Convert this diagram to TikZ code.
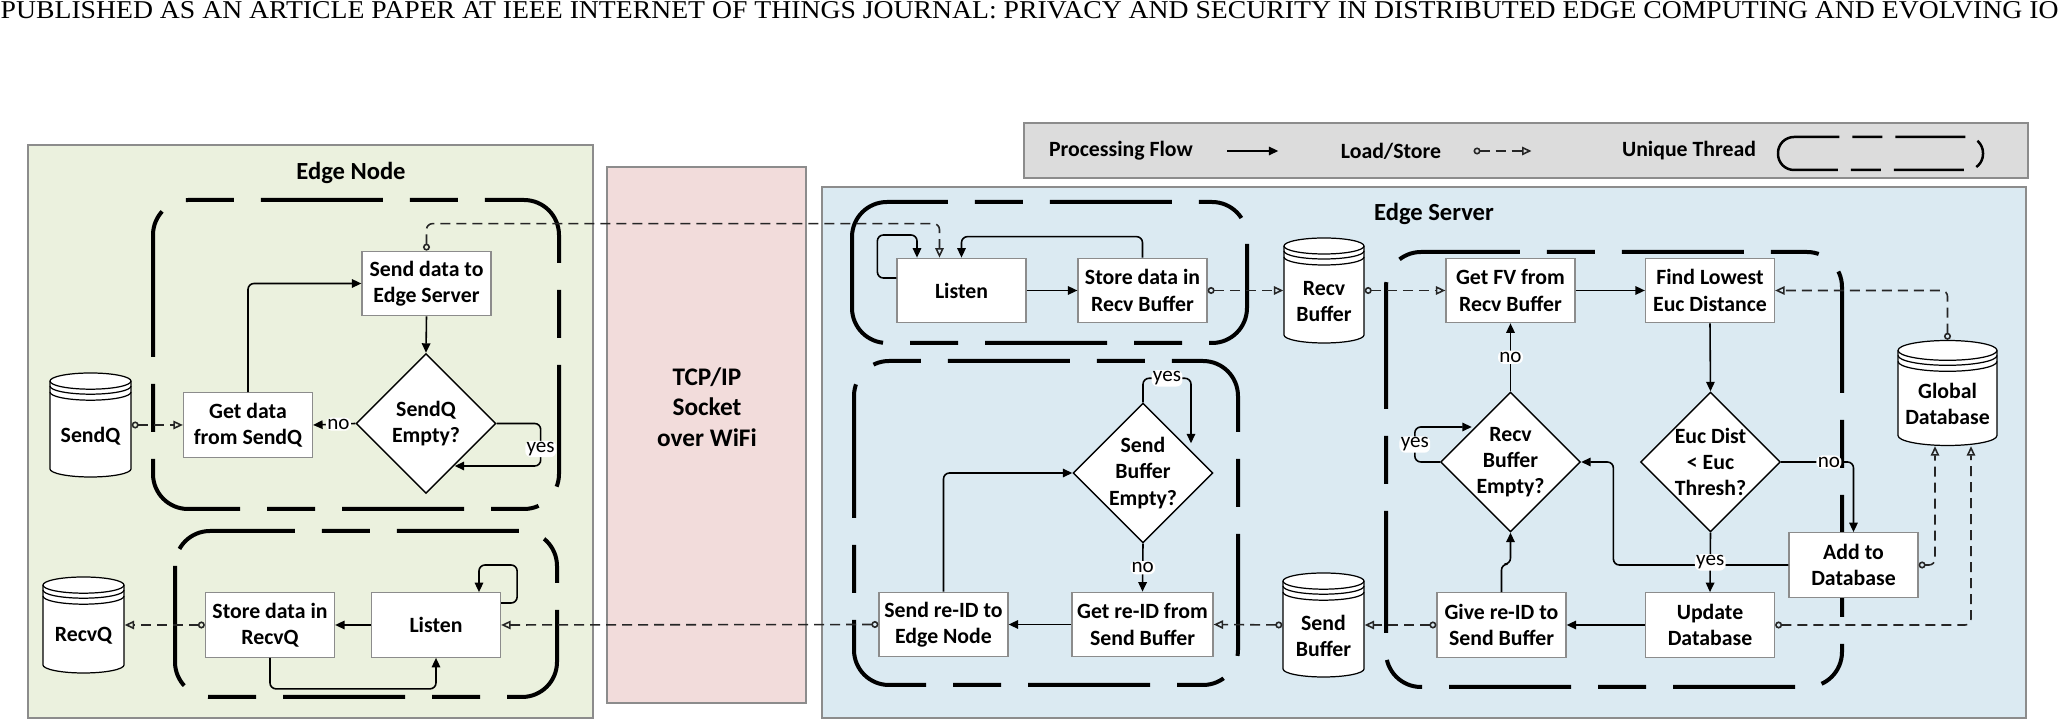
\documentclass[tikz,border=0pt]{standalone}
\usepackage{graphicx}
\usepackage{fontspec}
\setmainfont{Carlito}
\newfontfamily\headserif{Liberation Serif}
\usetikzlibrary{arrows.meta,calc,positioning,shapes.geometric}

\definecolor{nodebg}{HTML}{EBF1DE}
\definecolor{netbg}{HTML}{F2DCDB}
\definecolor{serverbg}{HTML}{DBEAF2}
\definecolor{legendbg}{HTML}{DCDCDC}
\definecolor{framegray}{HTML}{8C8C8C}

\newcommand{\procfont}{\fontsize{6.2}{7.45}\selectfont\bfseries}
\newcommand{\ynfont}{\fontsize{6}{7}\selectfont}

\newcommand{\dbstore}[6]{%
  \begin{scope}[shift={(#2,#3)}]
    \filldraw[fill=white, line width=0.35pt] (-#4/2,#5/2-#4/10) -- (-#4/2,-#5/2+#4/10)
      arc[start angle=180, end angle=360, x radius=#4/2, y radius=#4/10]
      -- (#4/2,#5/2-#4/10) arc[start angle=0, end angle=180, x radius=#4/2, y radius=#4/10] -- cycle;
    \foreach \dy in {0,5,11}
      \draw[line width=0.35pt] (-#4/2,#5/2-#4/10-\dy) arc[start angle=180, end angle=360, x radius=#4/2, y radius=#4/10];
  \end{scope}
  \node[minimum width=#4*0.1mm, minimum height=#5*0.1mm, inner sep=0pt] (#1) at (#2,#3) {};
  \node[font=\procfont, align=center, inner sep=0pt] (#1txt) at ([yshift=-1.1mm]#1.center) {#6};
}

\begin{document}
\begin{tikzpicture}[x=0.1mm, y=0.1mm,
    panel/.style={draw=framegray, line width=0.5pt},
    thread/.style={line width=0.4mm, dash pattern=on 12.2mm off 2.7mm on 4.8mm off 2.7mm, rounded corners=3.5mm},
    legthread/.style={line width=0.25mm, dash pattern=on 7mm off 1.3mm on 3mm off 1.3mm, rounded corners=1.6mm},
    proc/.style={draw=framegray, fill=white, line width=0.35pt, minimum width=12.9mm, minimum height=6.45mm, inner sep=0pt, align=center, font=\procfont},
    decide/.style={diamond, draw, fill=white, line width=0.4pt, minimum width=14mm, minimum height=14mm, inner sep=-0.15mm, align=center, font=\procfont},
    flow/.style={line width=0.45pt, rounded corners=0.6mm, -{Triangle[length=0.95mm, width=0.85mm]}},
    loadstore/.style={line width=0.45pt, black!85, rounded corners=0.6mm, dash pattern=on 1mm off 0.6mm, {Circle[open, length=0.7mm]}-{Triangle[open, length=0.95mm, width=0.85mm]}},
    yn/.style={fill=white, inner sep=0.4pt, font=\ynfont},
    title/.style={font=\fontsize{7}{8.4}\selectfont\bfseries}]
  \useasboundingbox (0,0) rectangle (2058,-719);
  \node[anchor=south west, inner sep=0pt] (head) at (0,-20) {\resizebox{205.8mm}{1.7mm}{\headserif PUBLISHED AS AN ARTICLE PAPER AT IEEE INTERNET OF THINGS JOURNAL: PRIVACY AND SECURITY IN DISTRIBUTED EDGE COMPUTING AND EVOLVING IO}};

  \filldraw[panel, fill=nodebg] (28,-145) rectangle (593,-718);
  \filldraw[panel, fill=netbg] (607,-167) rectangle (806,-703);
  \filldraw[panel, fill=serverbg] (822,-187) rectangle (2026,-718);
  \filldraw[panel, fill=legendbg] (1024,-123) rectangle (2028,-178);

  \node[title] (ntitle) at (351,-173) {Edge Node};
  \node[title] (stitle) at (1434,-214) {Edge Server};
  \node[font=\fontsize{7.2}{8.6}\selectfont\bfseries, align=center] (tcp) at (707,-407) {TCP/IP\\Socket\\over WiFi};

  \node[font=\procfont] (lgflow) at (1121,-151) {Processing Flow};
  \draw[flow] ([xshift=2.2mm]lgflow.east) -- ++(51,0);
  \node[font=\procfont] (lgls) at (1391,-151) {Load/Store};
  \draw[loadstore] ([xshift=2mm]lgls.east) -- ++(58,0);
  \node[font=\procfont] (lgthr) at (1689,-151) {Unique Thread};
  \draw[legthread] (1778,-137) rectangle (1983,-170);

  \draw[thread] (153,-200) rectangle (559,-509);
  \draw[thread] (175,-531) rectangle (557,-697);
  \draw[thread] (852,-202) rectangle (1247,-343);
  \draw[thread] (854,-361) rectangle (1238,-685);
  \draw[thread] (1386,-252) rectangle (1842,-687);

  \node[proc] (sendsrv) at (426.5,-283.5) {Send data to\\Edge Server};
  \node[decide] (sqempty) at (426,-423.5) {SendQ\\Empty?};
  \node[proc] (getdata) at (248,-425) {Get data\\from SendQ};
  \dbstore{sendq}{90.5}{-425}{81}{104}{SendQ}
  \node[proc] (storerq) at (270,-625) {Store data in\\RecvQ};
  \node[proc] (listenn) at (436,-625) {Listen};
  \dbstore{recvq}{83.5}{-625}{81}{96}{RecvQ}

  \node[proc] (listens) at (961.5,-290.5) {Listen};
  \node[proc] (storerb) at (1142.5,-290.5) {Store data in\\Recv Buffer};
  \dbstore{recvbuf}{1324}{-290.5}{80}{105}{Recv\\Buffer}
  \dbstore{sendbuf}{1323.5}{-625}{81}{104}{Send\\Buffer}
  \node[decide] (sbempty) at (1143,-473) {Send\\Buffer\\Empty?};
  \node[proc, minimum width=14.1mm] (getreid) at (1142.5,-624.5) {Get re-ID from\\Send Buffer};
  \node[proc] (sendreid) at (943.5,-624.5) {Send re-ID to\\Edge Node};
  \node[proc] (getfv) at (1510.5,-290.5) {Get FV from\\Recv Buffer};
  \node[proc] (findlow) at (1710,-290.5) {Find Lowest\\Euc Distance};
  \node[decide] (rbempty) at (1510.5,-462) {Recv\\Buffer\\Empty?};
  \node[decide] (eucdist) at (1710.5,-462) {Euc Dist\\< Euc\\Thresh?};
  \node[proc] (givereid) at (1501.5,-625) {Give re-ID to\\Send Buffer};
  \node[proc] (updatedb) at (1710,-625) {Update\\Database};
  \node[proc] (adddb) at (1853.5,-565) {Add to\\Database};
  \dbstore{globaldb}{1947.5}{-393}{99}{105}{Global\\Database}

  \draw[flow] (getdata.north) |- (sendsrv.west);
  \draw[flow] (sendsrv.south) -- (sqempty.north);
  \draw[flow] (sqempty.west) -- node[yn, pos=0.4] {no} (getdata.east);
  \draw[flow] (sqempty.east) -- ++(44,0) -- node[yn, pos=0.6] {yes} ++(0,-42.5) -- ++(-86,0);
  \draw[loadstore] (sendq.east) -- (getdata.west);
  \draw[loadstore] (sendsrv.north) -- ++(0,27) -| ([xshift=-2.2mm]listens.north);
  \draw[flow] ([yshift=2.2mm]listenn.east) -- ++(16,0) -- ++(0,38) -| ([xshift=4.3mm]listenn.north);
  \draw[flow] (listenn.west) -- (storerq.east);
  \draw[flow] (storerq.south) -- ++(0,-31) -| (listenn.south);
  \draw[loadstore] (storerq.west) -- (recvq.east);
  \draw[loadstore] (sendreid.west) -- (listenn.east);

  \draw[flow] ([yshift=1.25mm]listens.west) -- ++(-19,0) -- ++(0,43) -| ([xshift=-4.45mm]listens.north);
  \draw[flow] (listens.east) -- (storerb.west);
  \draw[flow] (storerb.north) -- ++(0,21) -| (listens.north);
  \draw[loadstore] (storerb.east) -- (recvbuf.west);
  \draw[loadstore] (recvbuf.east) -- (getfv.west);
  \draw[flow] (getfv.east) -- (findlow.west);
  \draw[loadstore] (globaldb.north) |- (findlow.east);
  \draw[flow] (findlow.south) -- (eucdist.north);
  \draw[flow] (rbempty.north) -- node[yn] {no} (getfv.south);
  \draw[flow] (rbempty.west) -- ++(-25,0) -- node[yn] {yes} ++(0,35) -- ++(57,0);
  \draw[flow] (eucdist.east) -| node[yn, pos=0.33] {no} (adddb.north);
  \draw[flow] (adddb.west) -- ++(-175,0) |- (rbempty.east);
  \draw[flow] (eucdist.south) -- node[yn] {yes} (updatedb.north);
  \draw[flow] (updatedb.west) -- (givereid.east);
  \draw[flow] (givereid.north) -- ++(0,28) -| (rbempty.south);
  \draw[loadstore] (givereid.west) -- (sendbuf.east);
  \draw[loadstore] (sendbuf.west) -- (getreid.east);
  \draw[flow] (getreid.west) -- (sendreid.east);
  \draw[flow] (sendreid.north) |- (sbempty.west);
  \draw[flow] (sbempty.north) -- ++(0,24) -- node[yn] {yes} ++(48,0) -- ++(0,-65);
  \draw[flow] (sbempty.south) -- node[yn] {no} (getreid.north);
  \draw[loadstore] (updatedb.east) -| ([xshift=2.35mm]globaldb.south);
  \draw[loadstore] (adddb.east) -| ([xshift=-1.25mm]globaldb.south);
\end{tikzpicture}
\end{document}
